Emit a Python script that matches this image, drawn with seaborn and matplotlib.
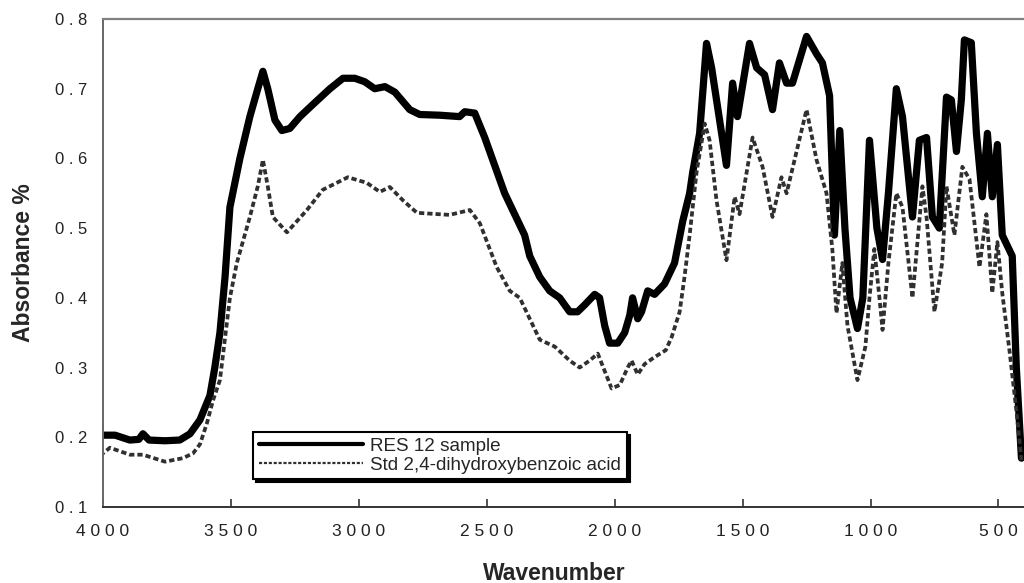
import matplotlib
matplotlib.use("Agg")
import matplotlib.pyplot as plt
import seaborn as sns
import pandas as pd
from matplotlib.ticker import FixedLocator, FixedFormatter

# ---- data ----
res_wn = [4000, 3953, 3895, 3860, 3844, 3820, 3758, 3700, 3660, 3621, 3582, 3563, 3543, 3523,
          3504, 3465, 3426, 3395, 3375, 3356, 3328, 3301, 3270, 3230, 3172, 3113, 3062, 3016,
          2977, 2938, 2898, 2859, 2801, 2762, 2684, 2606, 2586, 2547, 2508, 2469, 2430, 2391,
          2352, 2332, 2293, 2254, 2215, 2176, 2145, 2117, 2078, 2059, 2039, 2020, 1988, 1961,
          1941, 1930, 1910, 1895, 1871, 1844, 1805, 1766, 1734, 1707, 1695, 1668, 1641, 1621,
          1563, 1539, 1520, 1473, 1445, 1414, 1383, 1356, 1328, 1305, 1250, 1211, 1188, 1160,
          1141, 1120, 1100, 1080, 1051, 1030, 1004, 975, 953, 930, 899, 875, 836, 809, 781,
          758, 731, 703, 684, 664, 645, 633, 606, 586, 563, 543, 524, 504, 485, 446, 430, 410]
res_abs = [0.203, 0.203, 0.196, 0.197, 0.205, 0.196, 0.195, 0.196, 0.205, 0.225, 0.26, 0.30, 0.35, 0.43,
           0.53, 0.60, 0.66, 0.70, 0.725, 0.70, 0.655, 0.64, 0.643, 0.66, 0.68, 0.70, 0.715, 0.715,
           0.71, 0.70, 0.703, 0.695, 0.67, 0.663, 0.662, 0.66, 0.667, 0.665, 0.63, 0.59, 0.55, 0.52,
           0.49, 0.46, 0.43, 0.41, 0.40, 0.38, 0.38, 0.39, 0.405, 0.40, 0.36, 0.335, 0.335, 0.35,
           0.375, 0.40, 0.37, 0.38, 0.41, 0.405, 0.42, 0.45, 0.51, 0.55, 0.58, 0.636, 0.765, 0.73,
           0.59, 0.708, 0.66, 0.765, 0.73, 0.72, 0.67, 0.737, 0.708, 0.708, 0.775, 0.75, 0.737, 0.69,
           0.49, 0.64, 0.50, 0.40, 0.356, 0.40, 0.626, 0.50, 0.455, 0.55, 0.70, 0.66, 0.516, 0.626, 0.63,
           0.516, 0.50, 0.688, 0.684, 0.61, 0.684, 0.77, 0.766, 0.636, 0.545, 0.636, 0.545, 0.62, 0.49, 0.46, 0.30, 0.17]

std_wn = [4000, 3973, 3895, 3844, 3758, 3688, 3648, 3621, 3594, 3570, 3543, 3504, 3477, 3426,
          3395, 3375, 3356, 3336, 3281, 3203, 3141, 3043, 2969, 2918, 2879, 2828, 2773, 2645,
          2566, 2527, 2461, 2410, 2371, 2332, 2293, 2234, 2176, 2137, 2098, 2066, 2039, 2012,
          1980, 1949, 1934, 1910, 1883, 1844, 1800, 1777, 1746, 1727, 1707, 1680, 1648, 1629,
          1602, 1563, 1531, 1512, 1461, 1422, 1383, 1348, 1328, 1250, 1211, 1172, 1149, 1133,
          1110, 1090, 1051, 1020, 1004, 985, 965, 953, 930, 899, 875, 836, 797, 781, 750, 720,
          703, 672, 641, 613, 574, 547, 524, 504, 485, 457, 430, 410]
std_abs = [0.177, 0.185, 0.175, 0.175, 0.165, 0.17, 0.177, 0.19, 0.22, 0.253, 0.282, 0.40, 0.45, 0.516,
           0.56, 0.598, 0.56, 0.516, 0.494, 0.526, 0.555, 0.573, 0.565, 0.552, 0.559, 0.54, 0.522, 0.519,
           0.526, 0.507, 0.444, 0.41, 0.40, 0.37, 0.34, 0.33, 0.31, 0.30, 0.31, 0.32, 0.295, 0.27,
           0.275, 0.30, 0.31, 0.29, 0.305, 0.315, 0.325, 0.344, 0.38, 0.43, 0.49, 0.58, 0.65, 0.626,
           0.54, 0.454, 0.545, 0.52, 0.63, 0.588, 0.516, 0.573, 0.55, 0.67, 0.598, 0.55, 0.469, 0.378,
           0.45, 0.36, 0.282, 0.33, 0.40, 0.47, 0.40, 0.354, 0.45, 0.55, 0.53, 0.40, 0.56, 0.516, 0.38, 0.45,
           0.56, 0.49, 0.588, 0.57, 0.444, 0.52, 0.407, 0.48, 0.407, 0.325, 0.239, 0.167]

series_labels = ["RES 12 sample", "Std 2,4-dihydroxybenzoic acid"]
x_ticks = [4000, 3500, 3000, 2500, 2000, 1500, 1000, 500]
x_tick_labels = ["4 0 0 0", "3 5 0 0", "3 0 0 0", "2 5 0 0", "2 0 0 0", "1 5 0 0", "1 0 0 0", "5 0 0"]
y_ticks = [0.1, 0.2, 0.3, 0.4, 0.5, 0.6, 0.7, 0.8]
y_tick_labels = ["0 . 1", "0 . 2", "0 . 3", "0 . 4", "0 . 5", "0 . 6", "0 . 7", "0 . 8"]

sns.set_style("white")
plt.rcParams["font.family"] = ["Liberation Sans", "DejaVu Sans"]

fig = plt.figure(figsize=(10.24, 5.83), dpi=100)
ax = fig.add_axes([0.1006, 0.1304, 0.8994, 0.8370])

df_res = pd.DataFrame({"wn": res_wn, "abs": res_abs})
df_std = pd.DataFrame({"wn": std_wn, "abs": std_abs})

sns.lineplot(data=df_res, x="wn", y="abs", ax=ax, color="black", linewidth=5.2,
             label=series_labels[0], solid_joinstyle="round", solid_capstyle="round")
sns.lineplot(data=df_std, x="wn", y="abs", ax=ax, color="#303030", linewidth=2.7,
             linestyle=(0, (1.4, 0.8)), label=series_labels[1])

ax.set_xlim(4000, 400)
ax.set_ylim(0.1, 0.8)

ax.xaxis.set_major_locator(FixedLocator(x_ticks))
ax.xaxis.set_major_formatter(FixedFormatter(x_tick_labels))
ax.yaxis.set_major_locator(FixedLocator(y_ticks))
ax.yaxis.set_major_formatter(FixedFormatter(y_tick_labels))

ax.tick_params(axis="x", direction="in", length=6, width=1.2, color="#333333",
               labelsize=12.5, pad=12, labelcolor="#222222", bottom=True)
ax.tick_params(axis="y", length=0, labelsize=12, pad=11, labelcolor="#222222", left=False)

ax.spines["right"].set_visible(False)
ax.spines["top"].set_color("#808080")
ax.spines["top"].set_linewidth(1.6)
ax.spines["left"].set_color("#666666")
ax.spines["left"].set_linewidth(1.4)
ax.spines["bottom"].set_color("#333333")
ax.spines["bottom"].set_linewidth(1.4)

ax.set_xlabel("Wavenumber", fontsize=16.5, fontweight="bold")
ax.set_ylabel("Absorbance %", fontsize=16.5, fontweight="bold")
ax.xaxis.set_label_coords(0.49, -0.112)
ax.yaxis.set_label_coords(-0.074, 0.5)
ax.xaxis.label.set_verticalalignment("top")

handles, labels = ax.get_legend_handles_labels()
leg = ax.legend(handles, labels, loc="upper left", bbox_to_anchor=(0.163, 0.154),
                borderaxespad=0, frameon=True, fancybox=False,
                shadow={"color": "black", "alpha": 1.0},
                fontsize=13.6, handlelength=5.5, handletextpad=0.4,
                labelspacing=0.1, borderpad=0.3)
leg.get_frame().set_edgecolor("black")
leg.get_frame().set_linewidth(1.5)
leg.get_frame().set_alpha(1)
leg.get_lines()[0].set_linewidth(3.0)
leg.get_lines()[1].set_linewidth(1.6)

fig.savefig("out.png", dpi=100)
